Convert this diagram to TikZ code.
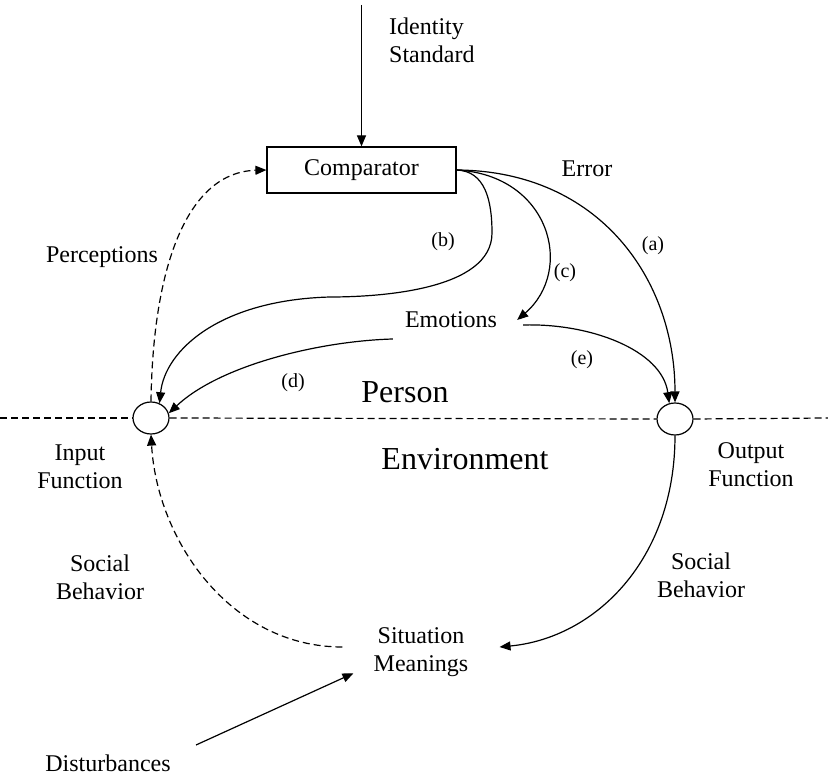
\documentclass[tikz,border=0pt]{standalone}
\usepackage{fontspec}
\setmainfont{Liberation Serif}
\usetikzlibrary{arrows.meta,shapes.geometric}
\begin{document}
\begin{tikzpicture}[x=1pt,y=1pt,
  txt/.style={inner sep=0pt, align=center, font=\fontsize{24}{28}\selectfont},
  lbl/.style={inner sep=0pt, font=\fontsize{20}{24}\selectfont},
  big/.style={inner sep=0pt, font=\fontsize{32}{38}\selectfont},
  conn/.style={line width=1.2pt, -{Triangle[length=11pt,width=9pt]}},
  dconn/.style={conn, dash pattern=on 7pt off 4pt},
  funcell/.style={draw, ellipse, line width=1.2pt, fill=white, minimum width=36pt, minimum height=32pt, inner sep=0pt},
  compbox/.style={draw, rectangle, line width=1.2pt, minimum width=189pt, minimum height=46pt, inner sep=0pt, font=\fontsize{24}{28}\selectfont},
  boundary/.style={line width=1.2pt, dash pattern=on 7pt off 4pt}]
\useasboundingbox (0,0) rectangle (828,-778);

% nodes
\node[txt, align=left, anchor=west] (idstd) at (389,-40) {Identity\\Standard};
\node[compbox] (comp) at (361.5,-170) {Comparator};
\node[txt] (err) at (587,-169) {Error};
\node[txt] (perc) at (102,-257) {Perceptions};
\node[lbl] (lb) at (443,-242) {(b)};
\node[lbl] (la) at (653,-246) {(a)};
\node[lbl] (lc) at (565,-273) {(c)};
\node[lbl] (le) at (582,-360) {(e)};
\node[lbl] (ld) at (293,-383) {(d)};
\node[txt, inner xsep=20pt] (emo) at (451,-320) {Emotions};
\node[big] (person) at (405,-392) {Person};
\node[big] (env) at (465,-459) {Environment};
\node[funcell] (inc) at (151,-418) {};
\node[funcell] (outc) at (675,-419) {};
\node[txt] (infn) at (80,-467) {Input\\Function};
\node[txt] (outfn) at (751,-465) {Output\\Function};
\node[txt] (sbl) at (100,-577) {Social\\Behavior};
\node[txt] (sbr) at (701,-575) {Social\\Behavior};
\node[txt, inner xsep=31pt] (sit) at (421,-652) {Situation\\Meanings};
\node[txt] (dist) at (108,-763) {Disturbances};

\coordinate (istop) at (361.5,-5);
\coordinate (bl) at (0,-418);
\coordinate (br) at (828,-418);
\coordinate (dstart) at (196,-745);

% boundary
\draw[boundary] (bl) -- (inc.west);
\draw[boundary] (inc.east) -- (outc.west);
\draw[boundary] (outc.east) -- (br);

% connectors
\draw[conn] (istop) -- (comp.north);
\draw[conn] (comp.east) .. controls (600,-171) and (675,-280) .. (outc.north);
\draw[conn] (comp.east) .. controls (550,-175) and (575,-270) .. (emo.east);
\draw[conn] (comp.east) .. controls (485,-171) and (492,-200) .. (492,-233)
   .. controls (492,-290) and (380,-297) .. (330,-297)
   .. controls (220,-300) and (165,-350) .. (inc.60);
\draw[conn] ([shift={(6pt,-5pt)}]emo.east) .. controls (590,-323) and (662,-350) .. (outc.110);
\draw[conn] ([shift={(8pt,-19pt)}]emo.west) .. controls (320,-341) and (220,-365) .. (inc.15);
\draw[dconn] (inc.north) .. controls (153,-260) and (190,-172) .. (comp.west);
\draw[dconn] ([yshift=5pt]sit.west) .. controls (230,-647) and (157,-540) .. (inc.south);
\draw[conn] (outc.south) .. controls (675,-560) and (595,-638) .. ([yshift=5pt]sit.east);
\draw[conn] (dstart) -- ([shift={(11pt,3.5pt)}]sit.south west);
\end{tikzpicture}
\end{document}
